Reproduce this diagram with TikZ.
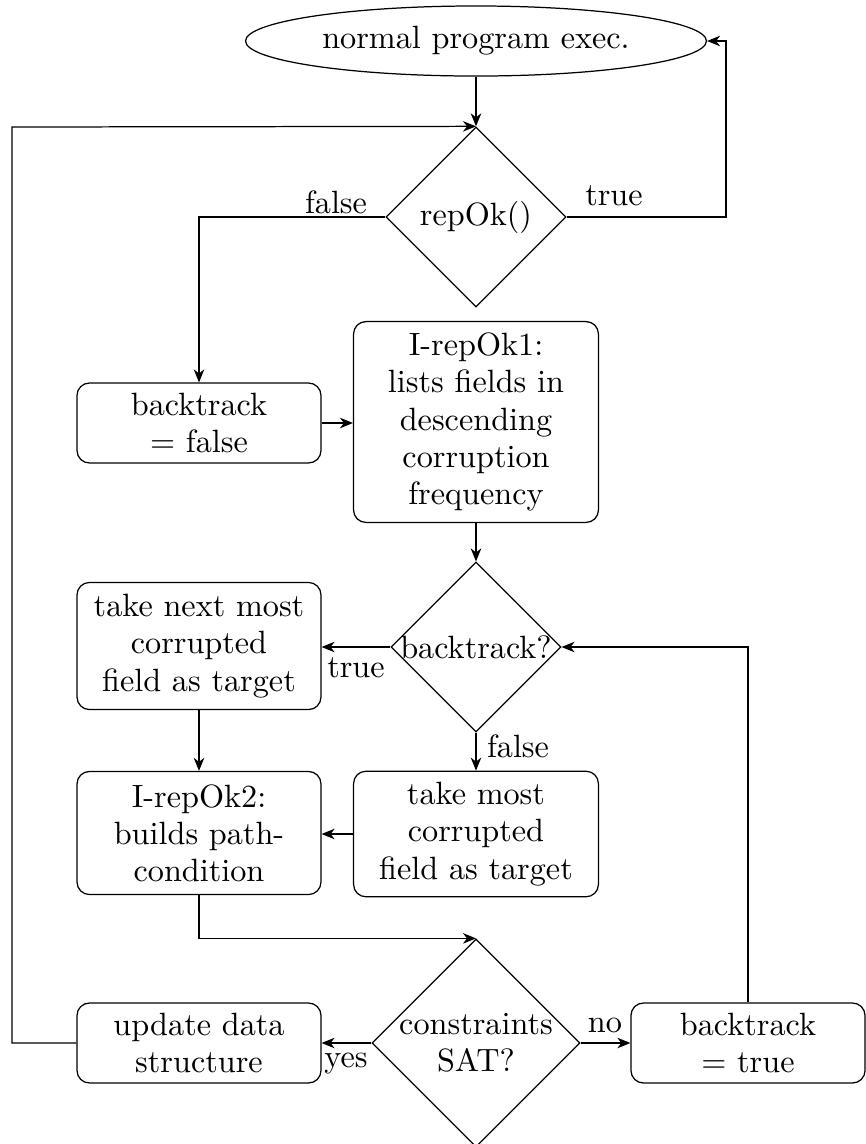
\documentclass[tikz,border=0pt]{standalone}
\usetikzlibrary{shapes.geometric,arrows.meta}
\begin{document}
\begin{tikzpicture}[
  x=0.3226pt, y=-0.3226pt,
  font=\fontsize{10.4pt}{12pt}\selectfont,
  arr/.style={draw, -{Stealth[length=4.2pt,width=3.4pt,inset=1.3pt]}},
  proc/.style={draw, rectangle, rounded corners=4pt, align=center, inner sep=2pt},
  wide/.style={minimum width=78.7pt},
  decision/.style={draw, diamond, aspect=1, inner sep=0pt, align=center},
  lbl/.style={anchor=base, inner sep=0pt}
]
\useasboundingbox (0,0) rectangle (866,1144);

% start/end of the monitored region
\node[draw, ellipse, minimum width=148.7pt, minimum height=22.6pt, inner sep=1pt]
  (ell) at (476,41) {normal program exec.};

% decisions
\node[decision, minimum size=58.1pt] (rep) at (476,217) {repOk()};
\node[decision, minimum size=54.8pt] (bq) at (476,647) {\makebox[0pt]{backtrack?}};
\node[decision, minimum size=67.1pt] (cs) at (476,1043)
  {\makebox[0pt]{constraints}\\\makebox[0pt]{SAT?}};

% process steps
\node[proc, wide, minimum height=25.8pt] (bf) at (199,423) {backtrack\\= false};
\node[proc, minimum width=79pt, minimum height=64.8pt] (r1) at (476,422)
  {I-repOk1:\\lists fields in\\descending\\corruption\\frequency};
\node[proc, wide, minimum height=41pt] (tn) at (199,646)
  {take next most\\corrupted\\field as target};
\node[proc, minimum width=79pt, minimum height=40.5pt] (tm) at (476,834)
  {take most\\corrupted\\field as target};
\node[proc, wide, minimum height=39.7pt] (r2) at (199,833)
  {I-repOk2:\\builds path-\\condition};
\node[proc, wide, minimum height=25.8pt] (up) at (199,1043) {update data\\structure};
\node[proc, minimum width=75.5pt, minimum height=25.8pt] (bt) at (748,1043) {backtrack\\= true};

% bends of the two outer loops
\coordinate (rtr) at (726,41);
\coordinate (ltl) at (12,127);

% connectors
\draw[arr] (ell.south) -- (rep.north);
\draw[arr] (rep.west) -| (bf.north);
\draw[arr] (rep.east) -| (rtr) -- (ell.east);
\draw[arr] (bf.east) -- (bf.east -| r1.west);
\draw[arr] (r1.south) -- (bq.north);
\draw[arr] (bq.west) -- (bq.west -| tn.east);
\draw[arr] (bq.south) -- (tm.north);
\draw[arr] (tn.south) -- (r2.north);
\draw[arr] (tm.west) -- (tm.west -| r2.east);
\draw[arr] (r2.south) |- (cs.north);
\draw[arr] (cs.west) -- (cs.west -| up.east);
\draw[arr] (cs.east) -- (cs.east -| bt.west);
\draw[arr] (bt.north) |- (bq.east);
\draw[arr] (up.west) -| (ltl) -- (rep.north);

% branch labels
\node[lbl] (l1) at (336,213) {false};
\node[lbl] (l2) at (614,205) {true};
\node[lbl] (l3) at (356,677) {true};
\node[lbl] (l4) at (518,757) {false};
\node[lbl] (l5) at (346,1067) {yes};
\node[lbl] (l6) at (605,1032) {no};
\end{tikzpicture}
\end{document}
